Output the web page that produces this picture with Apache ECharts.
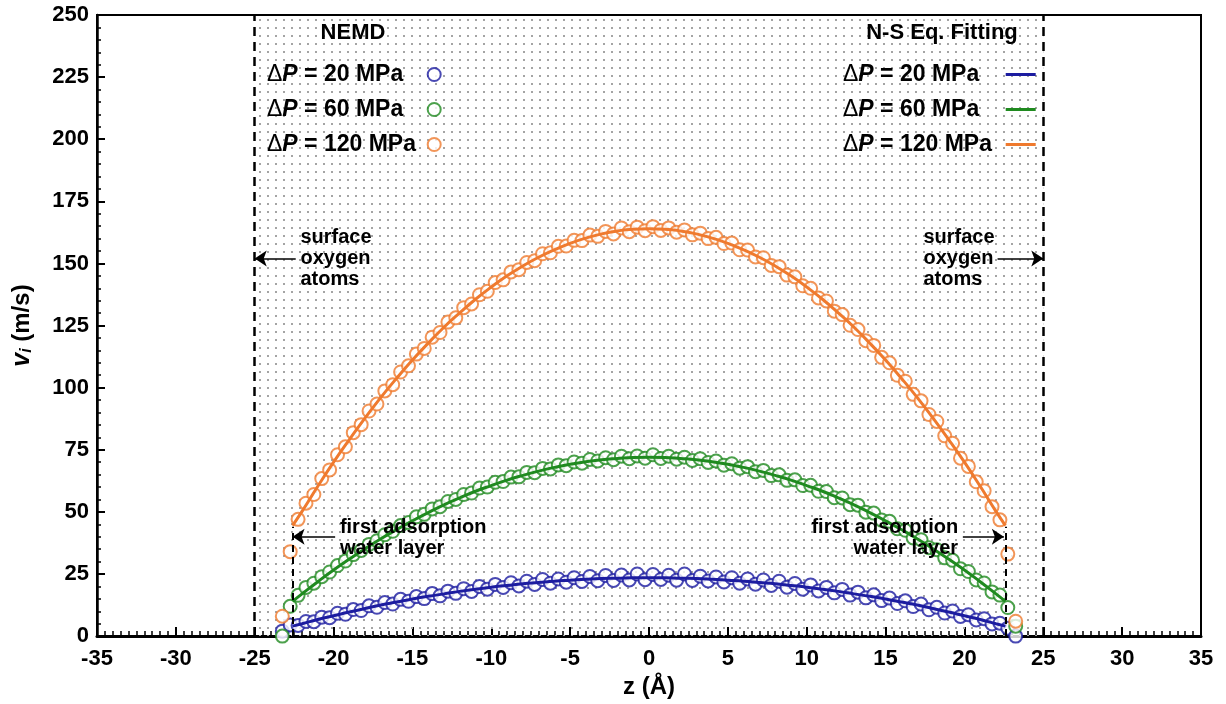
<!DOCTYPE html>
<html>
<head>
<meta charset="utf-8">
<script src="https://cdn.jsdelivr.net/npm/echarts@6/dist/echarts.min.js"></script>
<style>
  html, body { margin: 0; padding: 0; background: #fff; }
  #chart { width: 1226px; height: 704px; }
</style>
</head>
<body>
<div id="chart"></div>
<script>
// NEMD sampling positions across the slit (Å)
const zNEMD = [
  -23.25, -22.75, -22.25, -21.75, -21.25, -20.75, -20.25, -19.75, -19.25, -18.75,
  -18.25, -17.75, -17.25, -16.75, -16.25, -15.75, -15.25, -14.75, -14.25, -13.75,
  -13.25, -12.75, -12.25, -11.75, -11.25, -10.75, -10.25, -9.75, -9.25, -8.75,
  -8.25, -7.75, -7.25, -6.75, -6.25, -5.75, -5.25, -4.75, -4.25, -3.75,
  -3.25, -2.75, -2.25, -1.75, -1.25, -0.75, -0.25,
  0.25, 0.75, 1.25, 1.75, 2.25, 2.75, 3.25, 3.75, 4.25, 4.75,
  5.25, 5.75, 6.25, 6.75, 7.25, 7.75, 8.25, 8.75, 9.25, 9.75,
  10.25, 10.75, 11.25, 11.75, 12.25, 12.75, 13.25, 13.75, 14.25, 14.75,
  15.25, 15.75, 16.25, 16.75, 17.25, 17.75, 18.25, 18.75, 19.25, 19.75,
  20.25, 20.75, 21.25, 21.75, 22.25, 22.75, 23.25
];

// NEMD velocity profiles (m/s)
const vNEMD20 = [
  2, 4.5, 4.3, 5.9, 5.8, 7.6, 7.4, 9.2, 8.8, 10.7,
  10.3, 12.2, 11.6, 13.5, 12.9, 14.8, 14.0, 15.9, 15.1, 17.1,
  16.2, 18.1, 17.2, 19.1, 18.0, 20.0, 18.9, 20.8, 19.6, 21.5,
  20.2, 22.1, 20.8, 22.8, 21.3, 23.0, 21.7, 23.5, 22.0, 24.0,
  22.3, 24.4, 22.4, 24.6, 22.6, 25.0, 22.7,
  24.8, 22.8, 24.5, 22.5, 25.0, 22.4, 24.1, 22.2, 23.8, 21.8,
  23.5, 21.3, 23.0, 20.9, 22.6, 20.4, 22.1, 19.7, 21.2, 18.9,
  20.6, 18.2, 19.6, 17.4, 18.8, 16.5, 17.7, 15.4, 16.6, 14.3,
  15.3, 13.1, 14.2, 11.9, 12.9, 10.6, 11.6, 9.3, 10.1, 7.9,
  8.6, 6.5, 7.0, 4.9, 5.2, 3.2, 0
];
const vNEMD60 = [
  0, 12, 16.4, 19.6, 21.3, 23.9, 25.8, 28.4, 30.2, 32.8,
  34.5, 36.9, 38.4, 40.8, 42.2, 44.5, 45.7, 48.0, 49.0, 51.2,
  52.1, 54.2, 55.0, 57.0, 57.6, 59.6, 60.0, 61.9, 62.2, 64.0,
  64.1, 65.9, 65.8, 67.5, 67.3, 68.9, 68.6, 70.1, 69.6, 71.1,
  70.5, 71.8, 71.0, 72.4, 71.4, 72.5, 71.6,
  73.0, 71.5, 72.4, 71.2, 72.0, 70.7, 71.4, 69.9, 70.5, 68.8,
  69.4, 67.6, 68.2, 66.2, 66.7, 64.6, 64.9, 62.7, 62.9, 60.6,
  60.7, 58.3, 58.2, 55.7, 55.6, 52.9, 52.7, 49.9, 49.5, 46.7,
  46.2, 43.2, 42.6, 39.5, 38.8, 35.6, 34.8, 31.5, 30.5, 27.1,
  26.0, 22.6, 21.4, 17.8, 16.5, 11.5, 4
];
const vNEMD120 = [
  8, 34, 47.0, 53.5, 57.0, 63.4, 66.9, 73.0, 76.2, 81.9,
  85.1, 90.6, 93.4, 98.7, 101.2, 106.3, 108.8, 113.5, 115.8, 120.3,
  122.2, 126.4, 128.1, 132.2, 133.7, 137.4, 138.8, 142.3, 143.4, 146.6,
  147.5, 150.4, 151.1, 153.9, 154.3, 156.9, 157.0, 159.3, 159.2, 161.4,
  160.9, 162.9, 161.9, 164.3, 162.8, 164.6, 163.2,
  164.8, 163.3, 164.3, 162.6, 163.5, 161.5, 162.2, 160.0, 160.5, 158.0,
  158.2, 155.5, 155.4, 152.6, 152.3, 149.2, 148.7, 145.3, 144.6, 141.0,
  140.0, 136.1, 134.9, 130.8, 129.4, 125.1, 123.4, 118.9, 117.0, 112.2,
  110.0, 105.0, 102.6, 97.3, 94.7, 89.2, 86.4, 80.6, 77.6, 71.6,
  68.3, 62.1, 58.5, 52.1, 46.8, 33, 6
];

// N-S equation fitted profiles
const zFit = [
  -22.6, -22, -21, -20, -19, -18, -17, -16, -15, -14, -13, -12, -11, -10, -9, -8,
  -7, -6, -5, -4, -3, -2, -1, 0, 1, 2, 3, 4, 5, 6, 7,
  8, 9, 10, 11, 12, 13, 14, 15, 16, 17, 18, 19, 20, 21, 22, 22.6
];
const vFit20 = [
  4.0, 5.0, 6.7, 8.2, 9.7, 11.1, 12.5, 13.7, 14.9, 16.0, 17.0, 18.0, 18.9, 19.7, 20.4, 21.1,
  21.6, 22.1, 22.5, 22.9, 23.2, 23.3, 23.5, 23.5, 23.5, 23.3, 23.2, 22.9, 22.5, 22.1, 21.6,
  21.1, 20.4, 19.7, 18.9, 18.0, 17.0, 16.0, 14.9, 13.7, 12.5, 11.1, 9.7, 8.2, 6.7, 5.0, 4.0
];
const vFit60 = [
  14.0, 17.0, 21.9, 26.6, 31.0, 35.2, 39.2, 42.9, 46.4, 49.7, 52.8, 55.6, 58.3, 60.6, 62.8, 64.7,
  66.4, 67.9, 69.2, 70.2, 71.0, 71.5, 71.9, 72.0, 71.9, 71.5, 71.0, 70.2, 69.2, 67.9, 66.4,
  64.7, 62.8, 60.6, 58.3, 55.6, 52.8, 49.7, 46.4, 42.9, 39.2, 35.2, 31.0, 26.6, 21.9, 17.0, 14.0
];
const vFit120 = [
  44.5, 50.2, 60.3, 70.0, 79.1, 87.8, 96.1, 103.8, 111.1, 117.9, 124.3, 130.1, 135.6, 140.5, 145.0, 149.0,
  152.5, 155.5, 158.1, 160.2, 161.9, 163.1, 163.8, 164.0, 163.8, 163.1, 161.9, 160.2, 158.1, 155.5, 152.5,
  149.0, 145.0, 140.5, 135.6, 130.1, 124.3, 117.9, 111.1, 103.8, 96.1, 87.8, 79.1, 70.0, 60.3, 50.2, 44.5
];

const pressures = ['20', '60', '120'];
const colors = ['#1c1ca0', '#1f8a1f', '#ef7a2e'];

const FONT = '"Liberation Sans", Arial, Helvetica, sans-serif';
const LEG_SIZE = 23;

const pairs = (xs, ys) => xs.map((x, i) => [x, ys[i]]);
const nemdSets = [vNEMD20, vNEMD60, vNEMD120];
const fitSets = [vFit20, vFit60, vFit120];

// dotted fill for the channel region
const dot = document.createElement('canvas');
dot.width = 8; dot.height = 8;
const dctx = dot.getContext('2d');
dctx.fillStyle = '#a4a4a4';
dctx.fillRect(3, 3, 2, 2);

// legend labels: left aligned text of equal width, icon after it
const measure = document.createElement('canvas').getContext('2d');
measure.font = 'bold ' + LEG_SIZE + 'px ' + FONT;
const tailText = p => ' = ' + p + ' MPa';

const nemdNames = pressures.map(p => 'NEMD ' + p);
const fitNames = pressures.map(p => 'Fit ' + p);
const legendLabel = name => {
  const p = name.split(' ')[1];
  return '{d|\u0394}{p|P}{t|' + tailText(p) + '}{s' + p + '| }';
};
const makeRich = tailWidth => {
  const rich = {
    d: { fontFamily: FONT, fontSize: LEG_SIZE, fontWeight: 'normal', color: '#000' },
    p: { fontFamily: FONT, fontSize: LEG_SIZE, fontWeight: 'bold', fontStyle: 'italic', color: '#000' },
    t: { fontFamily: FONT, fontSize: LEG_SIZE, fontWeight: 'bold', color: '#000' }
  };
  pressures.forEach(p => {
    const w = Math.max(1, tailWidth - measure.measureText(tailText(p)).width);
    rich['s' + p] = { fontFamily: FONT, fontSize: LEG_SIZE, width: w };
  });
  return rich;
};

const series = [];

// channel region, wall positions and adsorption layer guides
series.push({
  name: 'guides',
  type: 'line',
  data: [],
  silent: true,
  z: 1,
  markArea: {
    silent: true,
    itemStyle: { color: { image: dot, repeat: 'repeat' } },
    data: [[{ xAxis: -25 }, { xAxis: 25 }]]
  },
  markLine: {
    silent: true,
    symbol: ['none', 'none'],
    label: { show: false },
    lineStyle: { color: '#000', type: [9, 6], width: 2.5 },
    data: [
      { xAxis: -25 },
      { xAxis: 25 },
      [{ coord: [-22.6, 0], lineStyle: { type: [7, 5], width: 2 } }, { coord: [-22.6, 44] }],
      [{ coord: [22.6, 0], lineStyle: { type: [7, 5], width: 2 } }, { coord: [22.6, 44] }],
      [{ coord: [-19.9, 40], symbol: 'none', lineStyle: { type: 'solid', width: 1.5 } },
       { coord: [-22.6, 40], symbol: 'arrow', symbolSize: 12 }],
      [{ coord: [19.9, 40], symbol: 'none', lineStyle: { type: 'solid', width: 1.5 } },
       { coord: [22.5, 40], symbol: 'arrow', symbolSize: 12 }],
      [{ coord: [-22.4, 152], symbol: 'none', lineStyle: { type: 'solid', width: 1.5 } },
       { coord: [-25, 152], symbol: 'arrow', symbolSize: 12 }],
      [{ coord: [22.1, 152], symbol: 'none', lineStyle: { type: 'solid', width: 1.5 } },
       { coord: [25, 152], symbol: 'arrow', symbolSize: 12 }]
    ]
  }
});

nemdSets.forEach((vals, i) => {
  series.push({
    name: nemdNames[i],
    type: 'scatter',
    data: pairs(zNEMD, vals),
    symbol: 'emptyCircle',
    symbolSize: 13,
    itemStyle: { color: colors[i], borderColor: colors[i], borderWidth: 1.3 },
    z: 3
  });
});

fitSets.forEach((vals, i) => {
  series.push({
    name: fitNames[i],
    type: 'line',
    data: pairs(zFit, vals),
    smooth: true,
    symbol: 'none',
    lineStyle: { color: colors[i], width: 3 },
    itemStyle: { color: colors[i] },
    z: 4
  });
});

const chart = echarts.init(document.getElementById('chart'), null, { renderer: 'canvas' });

const axisFont = { fontFamily: FONT, fontSize: 22, fontWeight: 'bold', color: '#000' };

chart.setOption({
  animation: false,
  backgroundColor: '#fff',
  grid: { left: 97, right: 25, top: 15, bottom: 67, show: true, borderColor: '#000', borderWidth: 2 },
  legend: [
    {
      data: nemdNames,
      orient: 'vertical',
      left: 262, top: 58,
      align: 'right',
      itemGap: 12,
      itemWidth: 13, itemHeight: 13,
      selectedMode: false,
      formatter: legendLabel,
      textStyle: { rich: makeRich(125) }
    },
    {
      data: fitNames.map(n => ({ name: n, icon: 'rect' })),
      orient: 'vertical',
      left: 838, top: 58,
      align: 'right',
      itemGap: 12,
      itemWidth: 30, itemHeight: 3,
      selectedMode: false,
      formatter: legendLabel,
      textStyle: { rich: makeRich(127) }
    }
  ],
  xAxis: {
    type: 'value', min: -35, max: 35, interval: 5,
    name: 'z (\u00C5)', nameLocation: 'middle', nameGap: 38,
    nameTextStyle: { fontFamily: FONT, fontSize: 24, fontWeight: 'bold', color: '#000' },
    axisLine: { onZero: false, lineStyle: { color: '#000', width: 3 } },
    axisTick: { inside: true, length: 9, lineStyle: { color: '#000', width: 2 } },
    minorTick: { show: true, splitNumber: 10, length: 5, lineStyle: { color: '#000', width: 1.5 } },
    splitLine: { show: false },
    axisLabel: Object.assign({ margin: 12 }, axisFont)
  },
  yAxis: {
    type: 'value', min: 0, max: 250, interval: 25,
    name: '{v|v}{i|i}{u| (m/s)}', nameLocation: 'middle', nameGap: 62, nameRotate: 90,
    nameTextStyle: {
      rich: {
        v: { fontFamily: FONT, fontSize: 25, fontWeight: 'bold', fontStyle: 'italic', color: '#000' },
        i: { fontFamily: FONT, fontSize: 16, fontWeight: 'bold', fontStyle: 'italic', color: '#000', verticalAlign: 'bottom', padding: [10, 0, 0, 0] },
        u: { fontFamily: FONT, fontSize: 24, fontWeight: 'bold', color: '#000' }
      }
    },
    axisLine: { onZero: false, lineStyle: { color: '#000', width: 2.5 } },
    axisTick: { inside: true, length: 8, lineStyle: { color: '#000', width: 2 } },
    minorTick: { show: true, splitNumber: 5, length: 4, lineStyle: { color: '#000', width: 1.5 } },
    splitLine: { show: false },
    axisLabel: Object.assign({ margin: 8 }, axisFont)
  },
  series: series
});

// annotation texts placed at data coordinates
const px = (x, y) => chart.convertToPixel({ gridIndex: 0 }, [x, y]);
const annoStyle = { fontFamily: FONT, fontSize: 20, fontWeight: 'bold', fill: '#000', lineHeight: 21 };
const headStyle = { fontFamily: FONT, fontSize: 22, fontWeight: 'bold', fill: '#000' };

const pSurfL = px(-22.1, 152);
const pSurfR = px(17.4, 152);
const pAdsL = px(-19.6, 39.5);
const pAdsR = px(19.6, 39.5);

chart.setOption({
  graphic: [
    { type: 'text', z: 10, x: 353, y: 33,
      style: Object.assign({ text: 'NEMD', textAlign: 'center', textVerticalAlign: 'middle' }, headStyle) },
    { type: 'text', z: 10, x: 942, y: 33,
      style: Object.assign({ text: 'N-S Eq. Fitting', textAlign: 'center', textVerticalAlign: 'middle' }, headStyle) },
    { type: 'text', z: 10, x: pSurfL[0], y: pSurfL[1],
      style: Object.assign({ text: 'surface\noxygen\natoms', textAlign: 'left', textVerticalAlign: 'middle' }, annoStyle) },
    { type: 'text', z: 10, x: pSurfR[0], y: pSurfR[1],
      style: Object.assign({ text: 'surface\noxygen\natoms', textAlign: 'left', textVerticalAlign: 'middle' }, annoStyle) },
    { type: 'text', z: 10, x: pAdsL[0], y: pAdsL[1],
      style: Object.assign({ text: 'first adsorption\nwater layer', textAlign: 'left', textVerticalAlign: 'middle' }, annoStyle) },
    { type: 'text', z: 10, x: pAdsR[0], y: pAdsR[1],
      style: Object.assign({ text: 'first adsorption\nwater layer', textAlign: 'right', textVerticalAlign: 'middle' }, annoStyle) }
  ]
});
</script>
</body>
</html>
